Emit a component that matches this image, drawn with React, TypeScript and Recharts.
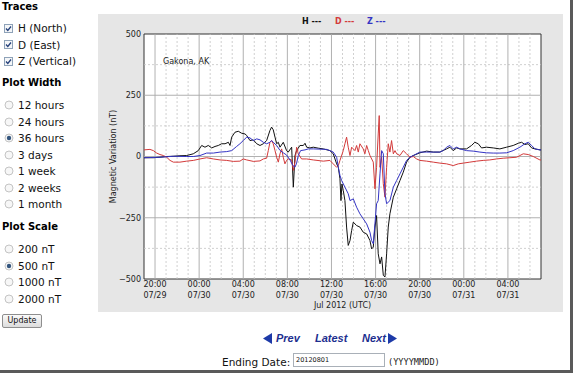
import React from 'react';
import { LineChart, Line, XAxis, YAxis, ReferenceLine, ReferenceArea } from 'recharts';

// ---- axis data ----
const tickHours = [1, 5, 9, 13, 17, 21, 25, 29, 33];
const tickTimes = ['20:00', '00:00', '04:00', '08:00', '12:00', '16:00', '20:00', '00:00', '04:00'];
const tickDates = ['07/29', '07/30', '07/30', '07/30', '07/30', '07/30', '07/30', '07/31', '07/31'];
const minorHours = [2, 3, 4, 6, 7, 8, 10, 11, 12, 14, 15, 16, 18, 19, 20, 22, 23, 24, 26, 27, 28, 30, 31, 32, 34, 35];
const yTicks = [-500, -250, 0, 250, 500];
const yMajorGrid = [-250, 0, 250];
const yMinorGrid = [-375, -125, 125, 375];

// ---- series: [hours since 19:00 07/29 UTC, nT] ----
const hTrace: [number, number][] = [
  [0, -5], [0.85, -5], [1.45, -3], [2.06, 0], [2.66, 1], [3.26, 3], [3.87, 4], [4.47, 11], [4.92, 24],
  [5.23, 45], [5.53, 38], [5.83, 45], [6.14, 35], [6.44, 41], [6.74, 45], [7.04, 52], [7.35, 52], [7.65, 58],
  [7.8, 45], [7.95, 79], [8.25, 99], [8.55, 103], [8.85, 95], [9.16, 92], [9.31, 86], [9.61, 65], [9.91, 68],
  [10.22, 52], [10.52, 45], [10.82, 52], [11.12, 65], [11.42, 106], [11.57, 120], [11.72, 109], [11.88, 79],
  [12.03, 52], [12.18, 58], [12.33, 38], [12.63, 58], [12.93, 24], [13.08, 18], [13.39, 38], [13.54, -125],
  [13.69, 4], [13.84, 24], [14.14, 45], [14.45, 45], [14.6, 54], [14.75, 38], [15.05, 35], [15.35, 38],
  [15.8, 34], [16.26, 31], [16.86, 24], [17.16, 11], [17.47, -30], [17.62, -44], [17.77, -91], [17.86, -180],
  [17.95, -112], [18.07, -139], [18.22, -180], [18.37, -288], [18.52, -363], [18.68, -343], [18.83, -302],
  [18.98, -268], [19.28, -282], [19.58, -288], [19.88, -309], [20.19, -316], [20.49, -343], [20.64, -377],
  [20.79, -370], [20.94, -288], [21.09, -241], [21.24, -397], [21.4, -438], [21.55, -410], [21.7, -485],
  [21.85, -492], [22.0, -397], [22.15, -288], [22.3, -234], [22.61, -166], [22.91, -132], [23.21, -98],
  [23.51, -64], [23.81, -23], [24.12, -3], [24.42, 4], [25.02, 15], [25.63, 22], [26.23, 18], [26.83, 18],
  [27.1, 24], [27.44, 31], [27.74, 38], [28.04, 24], [28.35, 35], [28.65, 31], [29.25, 31], [29.7, 45],
  [30.0, 58], [30.31, 52], [30.61, 35], [31.06, 38], [31.67, 35], [32.27, 31], [32.88, 38], [33.48, 45],
  [33.94, 54], [34.24, 58], [34.54, 49], [34.84, 52], [35.15, 35], [35.45, 31], [35.9, 27], [36, 27],
];

const dTrace: [number, number][] = [
  [0, 27], [0.54, 29], [0.85, 24], [1.15, 14], [1.45, 8], [1.75, 4], [2.06, -3], [2.36, -16], [2.66, -23],
  [3.26, -23], [3.87, -19], [4.47, -16], [5.08, -10], [5.68, -5], [6.29, -10], [6.89, -14], [7.5, -16],
  [8.1, -20], [8.7, -19], [9.0, -10], [9.31, -14], [9.91, -20], [10.52, -18], [10.82, -10], [11.12, -7],
  [11.27, 24], [11.42, 58], [11.57, 65], [11.72, 52], [11.88, 24], [12.03, -3], [12.18, -23], [12.33, 11],
  [12.48, 31], [12.63, -3], [12.78, -30], [12.93, -16], [13.08, -10], [13.39, -14], [13.54, -57], [13.69, -23],
  [13.84, 38], [13.99, 11], [14.29, -10], [14.75, -10], [15.35, -14], [16.26, -19], [16.86, -16], [17.16, -30],
  [17.47, -44], [17.62, -37], [17.77, -16], [18.07, 24], [18.22, 52], [18.37, 79], [18.52, 38], [18.68, 4],
  [18.83, 38], [19.13, 24], [19.28, 45], [19.43, 18], [19.58, 52], [19.88, 31], [20.03, 11], [20.19, 45],
  [20.34, 24], [20.49, 4], [20.79, -23], [20.94, -132], [21.09, -44], [21.24, 92], [21.33, 167], [21.4, -44],
  [21.55, -3], [21.7, -111], [21.85, -166], [22.0, -44], [22.15, 52], [22.3, 18], [22.45, 65], [22.61, 11],
  [22.76, 24], [22.91, 11], [23.21, 4], [23.51, 24], [23.81, 11], [24.12, -3], [24.42, 0], [24.72, -10],
  [25.02, -16], [25.63, -19], [26.23, -23], [26.83, -27], [27.44, -30], [28.04, -37], [28.5, -30],
  [28.95, -27], [29.55, -23], [30.15, -19], [30.76, -16], [31.36, -14], [31.97, -10], [32.57, -7],
  [33.18, -5], [33.78, -3], [34.09, 4], [34.39, 11], [34.84, 8], [35.3, 0], [35.9, -14], [36, -14],
];

const zTrace: [number, number][] = [
  [0, -5], [1.45, -3], [2.66, 1], [3.87, 0], [4.47, 0], [5.08, 4], [5.68, 14], [6.29, 14], [6.89, 18],
  [7.5, 20], [7.95, 24], [8.4, 41], [8.7, 52], [9.0, 65], [9.31, 79], [9.61, 76], [9.91, 65], [10.22, 72],
  [10.52, 68], [10.82, 58], [11.12, 52], [11.42, 58], [11.57, 65], [11.72, 58], [12.03, 45], [12.33, 25],
  [12.63, 15], [12.93, 6], [13.24, -14], [13.5, -37], [13.69, -44], [13.84, -27], [13.99, 4], [14.2, 24],
  [14.6, 27], [14.9, 31], [15.35, 31], [15.96, 30], [16.56, 29], [16.86, 24], [17.16, 18], [17.47, -3],
  [17.62, -44], [17.77, -77], [17.92, -98], [18.22, -125], [18.52, -152], [18.68, -180], [18.98, -173],
  [19.28, -207], [19.58, -234], [19.88, -254], [20.19, -275], [20.49, -309], [20.64, -343], [20.79, -356],
  [20.94, -275], [21.09, -193], [21.24, -180], [21.4, -71], [21.55, 24], [21.7, 11], [21.85, -152],
  [22.0, -193], [22.3, -180], [22.61, -125], [22.91, -98], [23.21, -71], [23.51, -44], [23.81, -16],
  [24.12, -3], [24.42, 4], [25.02, 18], [25.63, 18], [26.23, 18], [26.83, 18], [27.13, 24], [27.44, 38],
  [27.74, 45], [28.04, 31], [28.35, 38], [28.65, 31], [29.25, 24], [29.85, 22], [30.46, 18], [31.06, 15],
  [31.67, 14], [32.27, 14], [32.88, 15], [33.48, 24], [34.09, 38], [34.54, 52], [34.84, 58], [35.15, 45],
  [35.45, 31], [35.9, 27], [36, 27],
];

// ---- form text ----
const traceOptions = ['H (North)', 'D (East)', 'Z (Vertical)'];
const widthOptions = ['12 hours', '24 hours', '36 hours', '3 days', '1 week', '2 weeks', '1 month'];
const widthChecked = 2;
const scaleOptions = ['200 nT', '500 nT', '1000 nT', '2000 nT'];
const scaleChecked = 1;

const toRows = (arr: [number, number][]) => arr.map(([t, v]) => ({ t, v }));
const hData = toRows(hTrace);
const dData = toRows(dTrace);
const zData = toRows(zTrace);

const FONT = '"DejaVu Sans", Verdana, sans-serif';
const H_COLOR = '#111111';
const D_COLOR = '#d33a3a';
const Z_COLOR = '#3434c4';

const fmtY = (v: number) => (v < 0 ? '\u2212' + Math.abs(v) : String(v));

const XTick = (props: any) => {
  const { x, y, payload } = props;
  const i = tickHours.indexOf(payload.value);
  return (
    <text x={x} y={y} textAnchor="middle" fontSize={8} fill="#222" fontFamily={FONT}>
      <tspan x={x} dy={6}>{tickTimes[i]}</tspan>
      <tspan x={x} dy={10.5}>{tickDates[i]}</tspan>
    </text>
  );
};

const CheckBox = () => (
  <svg width={9} height={9} style={{ position: 'absolute', left: 4, top: -4.5 }}>
    <rect x={0.5} y={0.5} width={8} height={8} fill="#f4f6f8" stroke="#8ea2b8" />
    <path d="M2 4.5 L3.8 6.5 L7 2.5" fill="none" stroke="#24407a" strokeWidth={1.3} />
  </svg>
);

const Radio = ({ checked }: { checked: boolean }) => (
  <svg width={10} height={10} style={{ position: 'absolute', left: 4, top: -5 }}>
    <circle cx={5} cy={5} r={4} fill="#f7f7f7" stroke="#c4c4c4" />
    {checked && <circle cx={5} cy={5} r={2.2} fill="#34567e" />}
  </svg>
);

const Row = ({ y, children, label }: { y: number; children: React.ReactNode; label: string }) => (
  <div style={{ position: 'absolute', left: 0, top: y, height: 0 }}>
    {children}
    <span style={{ position: 'absolute', left: 18, top: -7, fontSize: 10.5, lineHeight: '14px', whiteSpace: 'nowrap', fontFamily: FONT, color: '#111' }}>
      {label}
    </span>
  </div>
);

const Heading = ({ y, text }: { y: number; text: string }) => (
  <div style={{ position: 'absolute', left: 2, top: y - 7, fontSize: 10, fontWeight: 'bold', lineHeight: '14px', fontFamily: FONT, color: '#000', whiteSpace: 'nowrap' }}>
    {text}
  </div>
);

const Tri = ({ dir }: { dir: 'l' | 'r' }) => (
  <svg width={9} height={11} style={{ position: 'absolute', top: -5.5, left: dir === 'l' ? 263 : 388 }}>
    <polygon points={dir === 'l' ? '9,0 0,5.5 9,11' : '0,0 9,5.5 0,11'} fill="#1d3aa8" />
  </svg>
);

export default function App() {
  return (
    <div style={{ position: 'absolute', left: 0, top: 0, width: 574, height: 377, background: '#fff', overflow: 'hidden', fontFamily: FONT }}>
      {/* left form panel */}
      <Heading y={7} text="Traces" />
      {traceOptions.map((o, i) => (
        <Row key={o} y={28 + i * 16.5} label={o}><CheckBox /></Row>
      ))}
      <Heading y={83} text="Plot Width" />
      {widthOptions.map((o, i) => (
        <Row key={o} y={105 + i * 16.5} label={o}><Radio checked={i === widthChecked} /></Row>
      ))}
      <Heading y={227} text="Plot Scale" />
      {scaleOptions.map((o, i) => (
        <Row key={o} y={249 + i * 16.5} label={o}><Radio checked={i === scaleChecked} /></Row>
      ))}
      <div style={{ position: 'absolute', left: 2, top: 314, width: 38, height: 12, border: '1px solid #8e8e8e', borderRadius: 2, background: 'linear-gradient(#fafafa,#dcdcdc)', fontSize: 8, lineHeight: '12px', textAlign: 'center', fontFamily: FONT, color: '#111' }}>
        Update
      </div>

      {/* chart panel */}
      <div style={{ position: 'absolute', left: 98, top: 14, width: 465, height: 298, background: '#e6e6e6' }}>
        <LineChart width={465} height={298} margin={{ top: 20, right: 22, bottom: 0, left: 16 }}>
          <XAxis
            dataKey="t"
            type="number"
            domain={[0, 36]}
            ticks={tickHours}
            tick={<XTick />}
            tickLine={false}
            axisLine={false}
            tickSize={0}
            tickMargin={2}
            height={33}
            allowDataOverflow
            label={{
              value: 'Jul 2012 (UTC)',
              content: (p: any) => {
                const vb = p.viewBox || { x: 46, y: 265, width: 397, height: 33 };
                return (
                  <text x={vb.x + vb.width / 2} y={vb.y + 29} textAnchor="middle" fontSize={8} fill="#222" fontFamily={FONT}>
                    Jul 2012 (UTC)
                  </text>
                );
              },
            }}
          />
          <YAxis
            type="number"
            domain={[-500, 500]}
            ticks={yTicks}
            tickFormatter={fmtY}
            tick={{ fontSize: 8, fill: '#222', fontFamily: FONT }}
            tickLine={false}
            axisLine={false}
            tickSize={0}
            tickMargin={3}
            width={30}
            allowDataOverflow
            label={{
              value: 'Magnetic Variation (nT)',
              content: (p: any) => {
                const vb = p.viewBox || { x: 16, y: 20, width: 30, height: 245 };
                const cx = vb.x - 1;
                const cy = vb.y + vb.height / 2;
                return (
                  <text x={cx} y={cy} transform={`rotate(-90 ${cx} ${cy})`} textAnchor="middle" dominantBaseline="central" fontSize={8} fill="#222" fontFamily={FONT}>
                    Magnetic Variation (nT)
                  </text>
                );
              },
            }}
          />
          <ReferenceArea x1={0} x2={36} y1={-500} y2={500} fill="#ffffff" fillOpacity={1} stroke="none" />
          {minorHours.map((h) => (
            <ReferenceLine key={'mx' + h} x={h} stroke="#c4c4c4" strokeDasharray="2 2" strokeWidth={0.8} />
          ))}
          {yMinorGrid.map((v) => (
            <ReferenceLine key={'my' + v} y={v} stroke="#c4c4c4" strokeDasharray="2 2" strokeWidth={0.8} />
          ))}
          {tickHours.map((h) => (
            <ReferenceLine key={'Mx' + h} x={h} stroke="#a8a8a8" strokeWidth={0.9} />
          ))}
          {yMajorGrid.map((v) => (
            <ReferenceLine key={'My' + v} y={v} stroke="#a8a8a8" strokeWidth={0.9} />
          ))}
          <Line data={hData} dataKey="v" stroke={H_COLOR} strokeWidth={1} dot={false} isAnimationActive={false} />
          <Line data={dData} dataKey="v" stroke={D_COLOR} strokeWidth={1} dot={false} isAnimationActive={false} />
          <Line data={zData} dataKey="v" stroke={Z_COLOR} strokeWidth={1} dot={false} isAnimationActive={false} />
          <ReferenceArea x1={0} x2={36} y1={-500} y2={500} fill="none" stroke="#333" strokeWidth={1} />
        </LineChart>
        {/* legend + station name */}
        <div style={{ position: 'absolute', left: 204, top: 3, fontSize: 8, fontWeight: 'bold', lineHeight: '10px', fontFamily: FONT, whiteSpace: 'nowrap' }}>
          <span style={{ position: 'absolute', left: 0, color: H_COLOR }}>H ---</span>
          <span style={{ position: 'absolute', left: 33, color: D_COLOR }}>D ---</span>
          <span style={{ position: 'absolute', left: 65, color: Z_COLOR }}>Z ---</span>
        </div>
        <div style={{ position: 'absolute', left: 65, top: 43, fontSize: 8, lineHeight: '10px', fontFamily: FONT, color: '#222', whiteSpace: 'nowrap' }}>
          Gakona, AK
        </div>
      </div>

      {/* navigation */}
      <div style={{ position: 'absolute', left: 0, top: 338, height: 0, width: 574 }}>
        <Tri dir="l" />
        <span style={{ position: 'absolute', left: 276, top: -7, fontFamily: '"Liberation Sans", Arial, sans-serif', fontSize: 11, fontWeight: 'bold', fontStyle: 'italic', color: '#1d2f8f', lineHeight: '14px' }}>Prev</span>
        <span style={{ position: 'absolute', left: 315, top: -7, fontFamily: '"Liberation Sans", Arial, sans-serif', fontSize: 11, fontWeight: 'bold', fontStyle: 'italic', color: '#1d2f8f', lineHeight: '14px' }}>Latest</span>
        <span style={{ position: 'absolute', left: 362, top: -7, fontFamily: '"Liberation Sans", Arial, sans-serif', fontSize: 11, fontWeight: 'bold', fontStyle: 'italic', color: '#1d2f8f', lineHeight: '14px' }}>Next</span>
        <Tri dir="r" />
      </div>
      <div style={{ position: 'absolute', left: 222, top: 355, fontSize: 10.5, lineHeight: '14px', fontFamily: FONT, color: '#111', whiteSpace: 'nowrap' }}>
        Ending Date:
      </div>
      <div style={{ position: 'absolute', left: 293, top: 353, width: 88, height: 12, border: '1px solid #a9b0b8', background: '#fff', fontSize: 6.5, lineHeight: '12px', paddingLeft: 2, boxSizing: 'content-box', fontFamily: FONT, color: '#111' }}>
        20120801
      </div>
      <div style={{ position: 'absolute', left: 388, top: 355, fontSize: 8.6, lineHeight: '14px', fontFamily: '"DejaVu Sans Mono", monospace', color: '#222', whiteSpace: 'nowrap' }}>
        (YYYYMMDD)
      </div>

      {/* page frame */}
      <div style={{ position: 'absolute', left: 570, top: 0, width: 3, height: 373, background: '#5a5a5a' }} />
      <div style={{ position: 'absolute', left: 0, top: 370, width: 573, height: 3, background: '#5a5a5a' }} />
    </div>
  );
}
